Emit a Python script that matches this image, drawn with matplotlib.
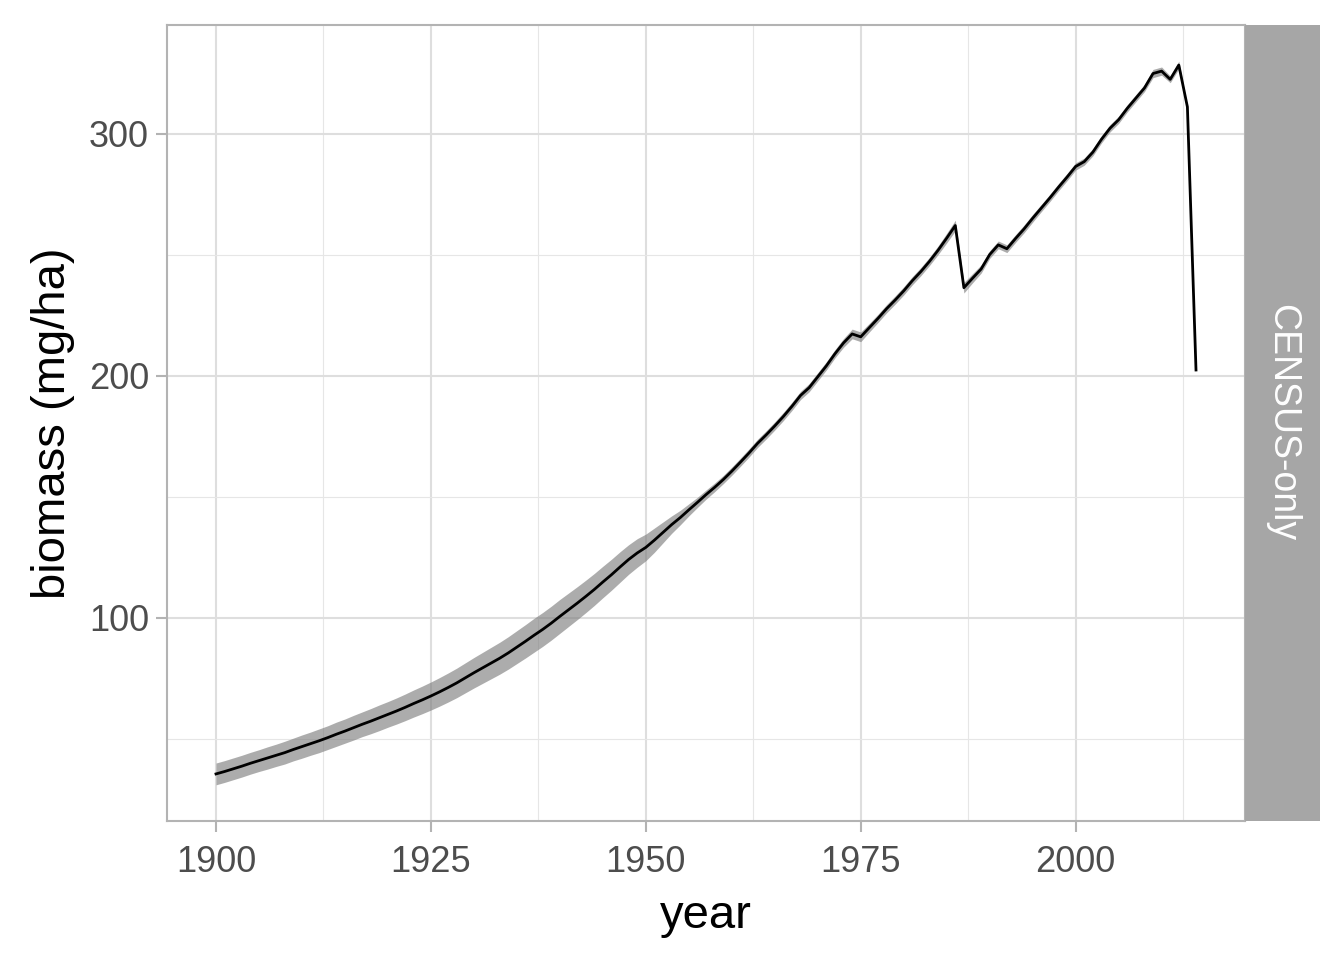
import matplotlib
matplotlib.use("Agg")
import matplotlib.pyplot as plt
import numpy as np

years = list(range(1900, 2015))
biomass = [
    35.4, 36.4, 37.5, 38.6, 39.8, 40.9, 42.0, 43.1, 44.2, 45.5,
    46.7, 47.9, 49.1, 50.4, 51.8, 53.1, 54.5, 55.9, 57.2, 58.6,
    60.0, 61.4, 62.9, 64.5, 66.0, 67.6, 69.3, 71.1, 73.0, 75.1,
    77.2, 79.2, 81.2, 83.2, 85.4, 87.8, 90.2, 92.7, 95.1, 97.7,
    100.5, 103.2, 105.9, 108.7, 111.6, 114.7, 117.7, 120.9, 124.0, 126.7,
    129.0, 132.0, 135.2, 138.4, 141.3, 144.5, 147.6, 150.8, 153.8, 157.0,
    160.5, 164.2, 168.0, 172.0, 175.5, 179.2, 183.1, 187.3, 191.8, 195.0,
    199.5, 204.0, 209.0, 213.5, 217.2, 216.0, 219.8, 223.6, 227.6, 231.2,
    235.0, 239.2, 243.0, 247.2, 251.8, 256.8, 262.0, 236.3, 240.2, 244.0,
    250.0, 254.0, 252.4, 256.6, 260.6, 265.0, 269.2, 273.4, 277.8, 282.0,
    286.4, 288.4, 292.3, 297.6, 302.2, 305.7, 310.4, 314.6, 318.8, 324.8,
    325.8, 322.4, 328.3, 311.0, 202.3,
]
spread = [
    4.5, 4.5, 4.5, 4.5, 4.5, 4.5, 4.6, 4.6, 4.7, 4.7,
    4.8, 4.8, 4.9, 4.9, 5.0, 5.0, 5.1, 5.1, 5.2, 5.3,
    5.3, 5.4, 5.5, 5.6, 5.7, 5.8, 5.9, 6.0, 6.1, 6.2,
    6.3, 6.4, 6.5, 6.6, 6.7, 6.8, 6.9, 7.0, 7.0, 7.0,
    7.0, 6.9, 6.8, 6.7, 6.6, 6.5, 6.4, 6.3, 6.1, 5.9,
    5.5, 5.0, 4.3, 3.6, 3.0, 2.5, 2.1, 1.9, 1.8, 1.7,
    1.7, 1.7, 1.7, 1.7, 1.7, 1.7, 1.7, 1.7, 1.7, 1.7,
    1.7, 1.7, 1.7, 1.8, 2.0, 2.0, 1.8, 1.7, 1.7, 1.7,
    1.7, 1.7, 1.7, 1.7, 1.8, 2.0, 2.2, 2.2, 1.9, 1.7,
    1.6, 1.6, 1.6, 1.6, 1.6, 1.6, 1.5, 1.5, 1.5, 1.5,
    1.5, 1.5, 1.5, 1.5, 1.5, 1.5, 1.5, 1.5, 1.5, 1.7,
    1.7, 1.4, 1.6, 0.4, 0.1,
]
panel_label = "CENSUS-only"
x_ticks = [1900, 1925, 1950, 1975, 2000]
y_ticks = [100, 200, 300]

plt.rcParams['font.family'] = ['Liberation Sans', 'DejaVu Sans']

W, H = 1344, 960
fig = plt.figure(figsize=(W / 100, H / 100), dpi=100)
L, R, T, B = 167, 1245, 25, 821
ax = fig.add_axes([L / W, 1 - B / H, (R - L) / W, (B - T) / H])

yr = np.array(years, dtype=float)
bm = np.array(biomass)
sp = np.array(spread)

ax.fill_between(yr, bm - sp, bm + sp, color='#7a7a7a', alpha=0.62, linewidth=0, zorder=2)
ax.plot(yr, bm, color='black', lw=2.0, zorder=3)

lo = (bm - sp).min(); hi = (bm + sp).max()
pad = 0.05 * (hi - lo)
ax.set_ylim(lo - pad, hi + pad)
xpad = 0.05 * (yr.max() - yr.min())
ax.set_xlim(yr.min() - xpad, yr.max() + xpad)

ax.set_xticks(x_ticks)
ax.set_yticks(y_ticks)
ax.set_xticks([1912.5, 1937.5, 1962.5, 1987.5, 2012.5], minor=True)
ax.set_yticks([50, 150, 250], minor=True)
ax.grid(which='major', color='#DEDEDE', lw=1.5, zorder=0)
ax.grid(which='minor', color='#E6E6E6', lw=0.8, zorder=0)
ax.set_axisbelow(True)

for s in ax.spines.values():
    s.set_color('#B3B3B3')
    s.set_linewidth(1.5)
ax.tick_params(which='major', length=8, width=1.5, color='#B3B3B3',
               labelsize=26, labelcolor='#4D4D4D', pad=5)
ax.tick_params(axis='x', which='major', pad=9)
ax.tick_params(which='minor', length=0)

ax.set_xlabel('year', fontsize=34, color='black', labelpad=10)
ax.set_ylabel('biomass (mg/ha)', fontsize=34, color='black', labelpad=10)

sax = fig.add_axes([R / W, 1 - B / H, (1320 - R) / W, (B - T) / H])
sax.set_facecolor('#A6A6A6')
sax.set_xticks([]); sax.set_yticks([])
for s in sax.spines.values():
    s.set_visible(False)
sax.text(0.5, 0.5, panel_label, rotation=-90, color='white', fontsize=27,
         ha='center', va='center', transform=sax.transAxes)

fig.savefig('out.png', dpi=100, facecolor='white')
